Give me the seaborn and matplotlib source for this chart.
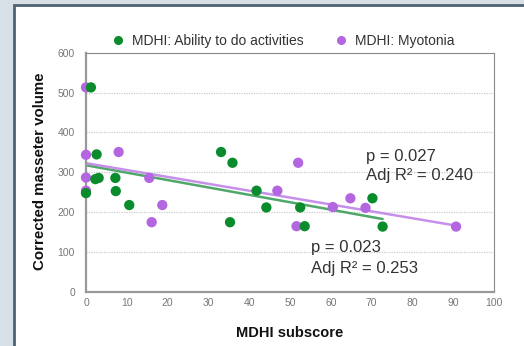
import matplotlib
matplotlib.use("Agg")
import matplotlib.pyplot as plt
from matplotlib.patches import Rectangle
from matplotlib.lines import Line2D
import seaborn as sns
import pandas as pd

# ---- data ----
activities_x = [1.2, 2.6, 2.3, 3.1, 7.2, 7.3, 0.0, 33.1, 35.9, 41.8, 10.6, 35.3, 44.2, 52.5, 53.6, 70.2, 72.7]
activities_y = [513, 345, 283, 286, 286, 253, 248, 351, 324, 254, 218, 175, 212, 212, 165, 235, 164]
myotonia_x = [0.0, 0.0, 8.0, 0.0, 0.0, 15.5, 16.1, 18.7, 52.0, 46.9, 51.6, 60.5, 64.8, 68.5, 90.7]
myotonia_y = [513, 344, 351, 287, 254, 286, 175, 218, 324, 254, 165, 213, 235, 211, 164]
series_names = ["MDHI: Ability to do activities", "MDHI: Myotonia"]
x_ticks = [0, 10, 20, 30, 40, 50, 60, 70, 80, 90, 100]
y_ticks = [0, 100, 200, 300, 400, 500, 600]
stats_myotonia = ["p = 0.027", "Adj R\u00b2 = 0.240"]
stats_activities = ["p = 0.023", "Adj R\u00b2 = 0.253"]

green = "#0a8c2c"
purple = "#b466e0"
green_line = "#4fa86a"
purple_line = "#c690ea"

sns.set_theme(style="white")
plt.rcParams["font.family"] = ["Liberation Sans", "DejaVu Sans"]

fig = plt.figure(figsize=(5.24, 3.46), dpi=100)
fig.patch.set_facecolor("#d8e0e7")
panel = Rectangle((14 / 524, -0.05), 1.0, 1 - 5 / 346 + 0.05, transform=fig.transFigure,
                  facecolor="white", edgecolor="#4d6272", linewidth=2, zorder=-10)
fig.patches.append(panel)

ax = fig.add_axes([86 / 524, 1 - 292 / 346, 408 / 524, (292 - 52.7) / 346])
ax.set_zorder(1)
ax.set_facecolor("white")

df_a = pd.DataFrame({"x": activities_x, "y": activities_y})
df_m = pd.DataFrame({"x": myotonia_x, "y": myotonia_y})

sns.regplot(data=df_a, x="x", y="y", ci=None, scatter=False, ax=ax,
            line_kws=dict(color=green_line, lw=1.8, zorder=2))
sns.regplot(data=df_m, x="x", y="y", ci=None, scatter=False, ax=ax,
            line_kws=dict(color=purple_line, lw=1.8, zorder=2))
sns.scatterplot(data=df_m, x="x", y="y", color=purple, s=55, edgecolor="none", ax=ax,
                zorder=3, clip_on=False)
sns.scatterplot(data=df_a, x="x", y="y", color=green, s=55, edgecolor="none", ax=ax,
                zorder=4, clip_on=False)

ax.set_xlim(0, 100)
ax.set_ylim(0, 600)
ax.set_xticks(x_ticks)
ax.set_yticks(y_ticks)
ax.tick_params(axis="x", direction="in", length=3, width=0.8, color="#888888",
               labelsize=7.5, labelcolor="#777777", pad=4)
ax.tick_params(axis="y", length=0, labelsize=7.5, labelcolor="#777777", pad=8)
for yv in y_ticks[1:-1]:
    ax.axhline(yv, color="#cccccc", lw=0.9, ls=(0, (1, 1)), zorder=1)

for side in ["left", "bottom"]:
    ax.spines[side].set_color("#999999")
    ax.spines[side].set_linewidth(1.6)
for side in ["top", "right"]:
    ax.spines[side].set_color("#888888")
    ax.spines[side].set_linewidth(0.8)

ax.set_xlabel("MDHI subscore", fontsize=10.5, fontweight="bold", color="#111111")
ax.set_ylabel("Corrected masseter volume", fontsize=10.8, fontweight="bold", color="#111111")
ax.xaxis.set_label_coords(0.5, -0.142)
ax.yaxis.set_label_coords(-0.0956, 0.506)

ax.text(68.6, 328, stats_myotonia[0], fontsize=12, color="#333333", va="baseline")
ax.text(68.6, 281, stats_myotonia[1], fontsize=12, color="#333333", va="baseline")
ax.text(55.1, 99.5, stats_activities[0], fontsize=12, color="#333333", va="baseline")
ax.text(55.1, 48.4, stats_activities[1], fontsize=12, color="#333333", va="baseline")

handles = [Line2D([], [], marker="o", ls="none", color=green, markersize=5.5),
           Line2D([], [], marker="o", ls="none", color=purple, markersize=5.5)]
fig.legend(handles, series_names, loc="center", bbox_to_anchor=(0.54, 1 - 41 / 346),
           ncol=2, frameon=False, fontsize=10, labelcolor="#333333",
           handletextpad=0.5, columnspacing=2.2, handlelength=1.0)

fig.savefig("out.png", dpi=100, facecolor=fig.get_facecolor())
